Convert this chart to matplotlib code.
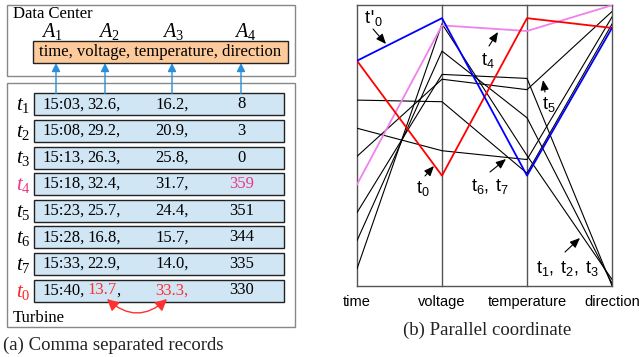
import matplotlib
matplotlib.use("Agg")
import matplotlib.pyplot as plt
from matplotlib.patches import Rectangle, FancyArrowPatch

plt.rcParams['mathtext.fontset'] = 'custom'
plt.rcParams['mathtext.rm'] = 'Liberation Serif'
plt.rcParams['mathtext.it'] = 'Liberation Serif:italic'
plt.rcParams['mathtext.sf'] = 'Liberation Sans'

# ---------------- data ----------------
attributes = ['time', 'voltage', 'temperature', 'direction']
record_ids = ['1', '2', '3', '4', '5', '6', '7', '0']
times = ['15:03', '15:08', '15:13', '15:18', '15:23', '15:28', '15:33', '15:40']
voltage = [32.6, 29.2, 26.3, 32.4, 25.7, 16.8, 22.9, 13.7]
temperature = [16.2, 20.9, 25.8, 31.7, 24.4, 15.7, 14.0, 33.3]
direction = [8, 3, 0, 359, 351, 344, 335, 330]
# repaired t0' (voltage / temperature swapped)
t0p_voltage = 33.3
t0p_temperature = 13.7
# axis ranges of the parallel coordinate
time_range = (0, 50)      # minutes after 15:00
voltage_range = (0, 35)
temperature_range = (0, 35)
direction_range = (0, 360)

SERIF = 'Liberation Serif'
SANS = 'Liberation Sans'

fig = plt.figure(figsize=(6.39, 3.57), dpi=100)
W, H = 639, 357

# ---------------- parallel coordinate ----------------
L, R, T, B = 357, 612, 4.5, 285.7
axp = fig.add_axes([L / W, 1 - B / H, (R - L) / W, (B - T) / H])
axp.set_xlim(0, 3)
axp.set_ylim(0, 1)
axp.axis('off')


def norm(v, rng):
    return (v - rng[0]) / (rng[1] - rng[0])


def minutes(s):
    h, m = s.split(':')
    return (int(h) - 15) * 60 + int(m)


def poly(i, v=None, t=None):
    vv = voltage[i] if v is None else v
    tt = temperature[i] if t is None else t
    return [norm(minutes(times[i]), time_range), norm(vv, voltage_range),
            norm(tt, temperature_range), norm(direction[i], direction_range)]


xs = [0, 1, 2, 3]
for i, rid in enumerate(record_ids):
    if rid in ('4', '0'):
        continue
    axp.plot(xs, poly(i), color='black', lw=0.8, zorder=2)
i4 = record_ids.index('4')
i0 = record_ids.index('0')
axp.plot(xs, poly(i4), color='#EE82EE', lw=1.3, zorder=3)
axp.plot(xs, poly(i0), color='#FF0000', lw=1.3, zorder=3)
axp.plot(xs, poly(i0, v=t0p_voltage, t=t0p_temperature), color='#0000FF', lw=1.3, zorder=4)

for x in xs:
    axp.plot([x, x], [0, 1], color='#555555', lw=1.0, zorder=1, clip_on=False)
axp.plot([0, 3], [1, 1], color='#555555', lw=1.0, zorder=1, clip_on=False)
axp.plot([0, 3], [0, 0], color='#555555', lw=1.0, zorder=1, clip_on=False)

# ---------------- overlay (pixel coordinates) ----------------
ax = fig.add_axes([0, 0, 1, 1], zorder=5)
ax.set_xlim(0, W)
ax.set_ylim(H, 0)
ax.axis('off')
ax.patch.set_visible(False)

# axis labels of parallel plot
for k, name in enumerate(attributes):
    ax.text(L + k * (R - L) / 3, 302, name, fontsize=10.5, family=SANS,
            ha='center', va='center')
ax.text(487, 330, '(b) Parallel coordinate', fontsize=13.5, family=SERIF,
        ha='center', va='center', color='#222222')


def note(txt, tx, ty, tail, tip):
    ax.text(tx, ty, txt, fontsize=13, ha='left', va='center')
    ax.annotate('', xy=tip, xytext=tail,
                arrowprops=dict(arrowstyle='-|>,head_length=0.6,head_width=0.25',
                                color='black', lw=0.8, shrinkA=0, shrinkB=0))


note(r"$\mathsf{t}$'$\mathsf{_0}$", 364, 18, (373, 29), (386, 44))
note(r"$\mathsf{t_4}$", 481, 60, (489, 46), (498, 32))
note(r"$\mathsf{t_5}$", 542, 104, (545, 92), (543, 80))
note(r"$\mathsf{t_0}$", 416, 188, (425, 176), (434, 166))
note(r"$\mathsf{t_6,\ t_7}$", 471, 186, (490, 172), (506, 159))
note(r"$\mathsf{t_1,\ t_2,\ t_3}$", 536, 268, (565, 252), (580, 238))

# ---------------- left panel ----------------
ax.add_patch(Rectangle((7, 5), 288, 71, fill=False, ec='#888888', lw=1.0))
ax.text(13, 13.5, 'Data Center', fontsize=12, family=SERIF, ha='left', va='center')
a_x = [52, 109, 173, 245]
for k, xa in enumerate(a_x):
    ax.text(xa, 32, r'$A_{%d}$' % (k + 1), fontsize=14.5, ha='center', va='center')
ax.add_patch(Rectangle((33, 41), 255, 22, fc='#FDCB9B', ec='#222222', lw=1.0))
ax.text(160.5, 52, ', '.join(attributes), fontsize=12, family=SERIF,
        ha='center', va='center')

ax.add_patch(Rectangle((7, 83), 288, 244, fill=False, ec='#888888', lw=1.0))
ax.text(13, 318, 'Turbine', fontsize=12, family=SERIF, ha='left', va='center')

arrow_x = [56, 105, 172, 241]
for xa in arrow_x:
    ax.annotate('', xy=(xa, 63), xytext=(xa, 93.5),
                arrowprops=dict(arrowstyle='-|>,head_length=0.5,head_width=0.25',
                                color='#2A8FD8', lw=1.0, shrinkA=0, shrinkB=0))

renderer = fig.canvas.get_renderer()
row_top0, row_step, row_h = 93.3, 26.6, 22
label_colors = {'4': '#E8388A', '0': '#FF2020'}
for i, rid in enumerate(record_ids):
    top = row_top0 + i * row_step
    cy = top + row_h / 2
    ax.add_patch(Rectangle((34, top), 250, row_h, fc='#D0E6F5', ec='#222222', lw=1.0))
    ax.text(16, cy + 1, r'$t_{%s}$' % rid, fontsize=15, ha='left', va='center',
            color=label_colors.get(rid, 'black'))
    ax.text(42.7, cy, times[i] + ',', fontsize=12, family=SERIF, ha='left', va='center')
    tcol = 'black'
    if rid == '0':
        tv = ax.text(87.5, cy, '%.1f' % voltage[i], fontsize=12, family=SERIF, ha='left',
                     va='center', color='#FF3030')
        bb = tv.get_window_extent(renderer)
        ax.text(bb.x1, cy, ',', fontsize=12, family=SERIF, ha='left', va='center')
        tcol = '#FF3030'
    else:
        ax.text(87.5, cy, '%.1f,' % voltage[i], fontsize=12, family=SERIF, ha='left',
                va='center')
    ax.text(155, cy, '%.1f,' % temperature[i], fontsize=12, family=SERIF, ha='left',
            va='center', color=tcol)
    ax.text(241.5, cy, str(direction[i]), fontsize=12, family=SERIF, ha='center',
            va='center', color='#E8388A' if rid == '4' else 'black')

# swap arrow
ax.add_patch(FancyArrowPatch((107, 299), (167, 299), connectionstyle='arc3,rad=0.45',
                             arrowstyle='<|-|>,head_length=7,head_width=3.5',
                             color='#FF3030', lw=1.0, mutation_scale=1,
                             shrinkA=0, shrinkB=0))

ax.text(3, 345, '(a) Comma separated records', fontsize=13.5, family=SERIF,
        ha='left', va='center', color='#222222')

fig.savefig('out.png', dpi=100)
